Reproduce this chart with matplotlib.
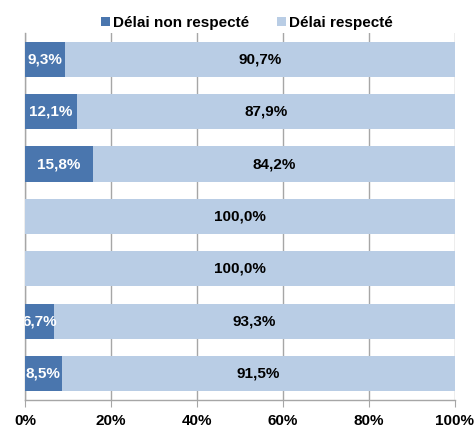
import matplotlib
matplotlib.use("Agg")
import matplotlib.pyplot as plt
import numpy as np

categories = ["A", "B", "C", "D", "E", "F", "G"]
non_respecte = [9.3, 12.1, 15.8, 0.0, 0.0, 6.7, 8.5]
respecte = [90.7, 87.9, 84.2, 100.0, 100.0, 93.3, 91.5]
series_names = ["Délai non respecté", "Délai respecté"]
xticks = [0, 20, 40, 60, 80, 100]

plt.rcParams['font.family'] = ['Liberation Sans', 'DejaVu Sans']

fig = plt.figure(figsize=(4.74, 4.28), dpi=100)
ax = fig.add_axes([0.0527, 0.0654, 0.9072, 0.8576])

dark = "#4A76AE"
light = "#B9CDE5"
y = np.arange(len(categories))
h = 0.67
fs = 11
b1 = ax.barh(y, non_respecte, height=h, color=dark, label=series_names[0], zorder=3)
b2 = ax.barh(y, respecte, left=non_respecte, height=h, color=light, label=series_names[1], zorder=3)

for i in range(len(categories)):
    if non_respecte[i] > 0:
        ax.text(non_respecte[i] / 2, y[i], f"{non_respecte[i]:.1f}%".replace(".", ","),
                ha="center", va="center", color="white", fontweight="bold", fontsize=fs,
                zorder=5, clip_on=True)
    ax.text(non_respecte[i] + respecte[i] / 2, y[i], f"{respecte[i]:.1f}%".replace(".", ","),
            ha="center", va="center", color="black", fontweight="bold", fontsize=fs, zorder=5)

ax.set_xlim(0, 100)
ax.set_ylim(len(categories) - 0.5, -0.5)
ax.set_xticks(xticks)
ax.set_xticklabels([f"{t}%" for t in xticks], fontweight="bold", fontsize=fs)
ax.set_yticks([])
ax.grid(axis="x", color="#A6A6A6", linewidth=1, zorder=0)
for s in ["top", "right"]:
    ax.spines[s].set_visible(False)
for s in ["left", "bottom"]:
    ax.spines[s].set_color("#A6A6A6")
    ax.spines[s].set_linewidth(1)
ax.tick_params(axis="x", direction="out", length=5, color="#A6A6A6", pad=5)

leg = ax.legend(loc="lower center", bbox_to_anchor=(0.516, 0.992), ncol=2, frameon=False,
                prop={"weight": "bold", "size": fs}, handlelength=0.6, handleheight=0.6,
                handletextpad=0.2, columnspacing=1.8, borderaxespad=0.0)

fig.savefig("out.png", dpi=100)
